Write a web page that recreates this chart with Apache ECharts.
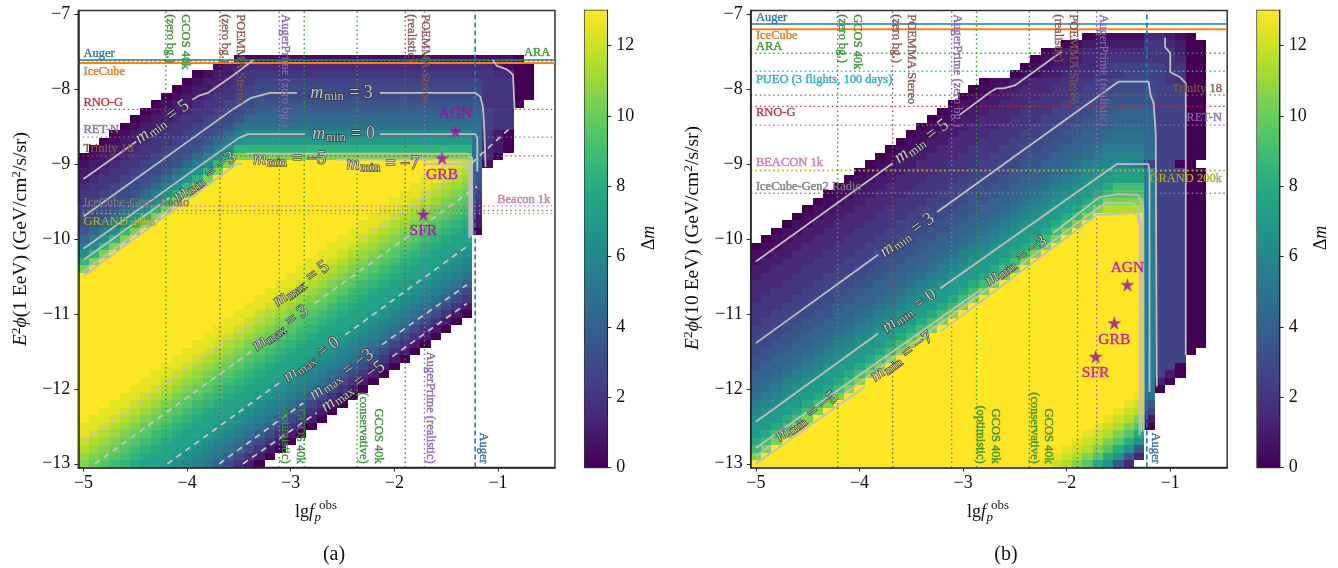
<!DOCTYPE html>
<html><head><meta charset="utf-8">
<style>html,body{margin:0;padding:0;background:#fff}#c{width:1338px;height:568px}</style>
<script src="https://cdn.jsdelivr.net/npm/echarts@6/dist/echarts.min.js"></script>
</head><body><div id="c"></div>
<script>
// Cell values, one string per row of 0.1 x 0.1 cells, first column lg f = -5.0.
// Each character is base-36 of (2 * delta m); "." means no cell.
const topYA = -7.6;
const rowsA = [
"..............."+"1111111111"+"1111111111"+"1111111"+"0",
"............."+"122"+"333333333333333333333333"+"2100",
"..........."+"01223"+"444444444444444444444444"+"3300",
".........."+"0122344"+"5555555555555555555555"+"44400",
"........."+"01223445"+"6666666666666666666666"+"44400",
"........"+"01223445"+"66666666666666666666666"+"44400",
"......."+"0122344566"+"7777777777777777777777"+"4440",
"......"+"01223445667"+"8888888888888888888888"+"544",
"....."+"012234456679"+"9999999999999999999999"+"544",
"...."+"012234456679"+"aaaaaaaaaaaaaaaaaaaaaaa"+"544",
"..."+"012234456679b"+"cccccccccccccccccccccc"+"a420",
".."+"012234456679bd"+"eeeeeeeeeeeeeeeeeeeeee"+"a420",
"."+"012234456679bdh"+"hhhhhhhhhhhhhhhhhhhhhh"+"a320",
"012234456679bdhl"+"llllllllllllllllllllll"+"a30",
"12234456679bdhlqqqqqqqqqqqqqqqqqqqqppoa1",
"2234456679bdhlqqqqqqqqqqqqqqqqqqqqppon7",
"234456679bdhlqqqqqqqqqqqqqqqqqqqqpponm7",
"34456679bdhlqqqqqqqqqqqqqqqqqqqqpponml6",
"4456679bdhlqqqqqqqqqqqqqqqqqqqqpponmlk5",
"456679bdhlqqqqqqqqqqqqqqqqqqqqpponmlkj4",
"56679bdhlqqqqqqqqqqqqqqqqqqqqpponmlkji3",
"6679bdhlqqqqqqqqqqqqqqqqqqqqpponmlkjih2",
"679bdhlqqqqqqqqqqqqqqqqqqqqpponmlkjihg2",
"79bdhlqqqqqqqqqqqqqqqqqqqqpponmlkjihgf0",
"9bdhlqqqqqqqqqqqqqqqqqqqqpponmlkjihgff",
"bdhlqqqqqqqqqqqqqqqqqqqqpponmlkjihgffe",
"dhlqqqqqqqqqqqqqqqqqqqqpponmlkjihgffed",
"hlqqqqqqqqqqqqqqqqqqqqpponmlkjihgffedc",
"lqqqqqqqqqqqqqqqqqqqqpponmlkjihgffedcb",
"qqqqqqqqqqqqqqqqqqqqpponmlkjihgffedcba",
"qqqqqqqqqqqqqqqqqqqpponmlkjihgffedcba8",
"qqqqqqqqqqqqqqqqqqpponmlkjihgffedcba86",
"qqqqqqqqqqqqqqqqqpponmlkjihgffedcba864",
"qqqqqqqqqqqqqqqqpponmlkjihgffedcba8642",
"qqqqqqqqqqqqqqqpponmlkjihgffedcba86420",
"qqqqqqqqqqqqqqpponmlkjihgffedcba86420",
"qqqqqqqqqqqqqpponmlkjihgffedcba86420",
"qqqqqqqqqqqqpponmlkjihgffedcba86420",
"qqqqqqqqqqqpponmlkjihgffedcba86420",
"qqqqqqqqqqpponmlkjihgffedcba86420",
"qqqqqqqqqpponmlkjihgffedcba86420",
"qqqqqqqqpponmlkjihgffedcba86420",
"qqqqqqqpponmlkjihgffedcba86420",
"qqqqqqpponmlkjihgffedcba86420",
"qqqqqpponmlkjihgffedcba86420",
"qqqqpponmlkjihgffedcba86420",
"qqqpponmlkjihgffedcba86420",
"qqpponmlkjihgffedcba86420",
"qpponmlkjihgffedcba86420",
"pponmlkjihgffedcba86420",
"ponmlkjihgffedcba86420",
"onmlkjihgffedcba86420",
"nmlkjihgffedcba86420",
"mlkjihgffedcba86420",
"lkjihgffedcba86420"
];
const topYB = -7.3;
const rowsB = [
"................................01111133210",
"..............................01222222443200",
"............................0122333333444200",
"...........................01122334444444300",
"..........................011223335555554400",
".........................0112233344455554400",
"......................0112233344455666654400",
".....................01122333444556666655500",
"....................011223334445566777755500",
"...................0112233344455667777755500",
"..................01122333444556677888855500",
".................011223334445566778888855500",
"................0112233344455667788999855500",
"...............01122333444556677889aaa955500",
"..............01122333444556677889aaaa955500",
".............01122333444556677889abbbb955500",
"............01122333444556677889abcccca55500",
"...........01122333444556677889abccccb55500",
"..........01122333444556677889abcdeeeeb55500",
".........01122333444556677889abcdeefffb55500",
"........01122333444556677889abcdeegiiib55500",
".......01122333444556677889abcdeegijjjb55500",
"......01122333444556677889abcdeegillllb55500",
".....01122333444556677889abcdeegilnnnnb55500",
"....01122333444556677889abcdeegilqqqqqb55500",
"...01122333444556677889abcdeegilqqqqqqb55500",
"..01122333444556677889abcdeegilqqqqqqqb55500",
".01122333444556677889abcdeegilqqqqqqqqb55500",
"01122333444556677889abcdeegilqqqqqqqqqb55500",
"1122333444556677889abcdeegilqqqqqqqqqqb55500",
"122333444556677889abcdeegilqqqqqqqqqqqb55500",
"22333444556677889abcdeegilqqqqqqqqqqqqb55500",
"2333444556677889abcdeegilqqqqqqqqqqqqqb55500",
"333444556677889abcdeegilqqqqqqqqqqqqqqb55500",
"33444556677889abcdeegilqqqqqqqqqqqqqqqb55500",
"3444556677889abcdeegilqqqqqqqqqqqqqqqqb55500",
"444556677889abcdeegilqqqqqqqqqqqqqqqqqb55500",
"44556677889abcdeegilqqqqqqqqqqqqqqqqqqb55500",
"4556677889abcdeegilqqqqqqqqqqqqqqqqqqqb55500",
"556677889abcdeegilqqqqqqqqqqqqqqqqqqqqb55500",
"56677889abcdeegilqqqqqqqqqqqqqqqqqqqqqb55500",
"6677889abcdeegilqqqqqqqqqqqqqqqqqqqqqqb55500",
"677889abcdeegilqqqqqqqqqqqqqqqqqqqqqqqb5550",
"77889abcdeegilqqqqqqqqqqqqqqqqqqqqqqqqb555",
"7889abcdeegilqqqqqqqqqqqqqqqqqqqqqqqqqb550",
"889abcdeegilqqqqqqqqqqqqqqqqqqqqqqqqqqb520",
"89abcdeegilqqqqqqqqqqqqqqqqqqqqqqqqqqqb20",
"9abcdeegilqqqqqqqqqqqqqqqqqqqqqqqqqqqqb0",
"abcdeegilqqqqqqqqqqqqqqqqqqqqqqqqqqqqpa",
"bcdeegilqqqqqqqqqqqqqqqqqqqqqqqqqqqqpo7",
"cdeegilqqqqqqqqqqqqqqqqqqqqqqqqqqqqpon5",
"deegilqqqqqqqqqqqqqqqqqqqqqqqqqqqqponl2",
"eegilqqqqqqqqqqqqqqqqqqqqqqqqqqqqponlj0",
"egilqqqqqqqqqqqqqqqqqqqqqqqqqqqqponljg",
"gilqqqqqqqqqqqqqqqqqqqqqqqqqqqqponljgd",
"ilqqqqqqqqqqqqqqqqqqqqqqqqqqqqponljgd7",
"lqqqqqqqqqqqqqqqqqqqqqqqqqqqqponljgd73",
"qqqqqqqqqqqqqqqqqqqqqqqqqqqqponljgd73"
];

const xTicks = [-5,-4,-3,-2,-1];
const yTicks = [-13,-12,-11,-10,-9,-8,-7];
const cbTicks = [0,2,4,6,8,10,12];
const viridis = ['#440154','#482475','#414487','#355f8d','#2a788e','#21918c','#22a884','#44bf70','#7ad151','#bddf26','#fde725'];

// Contours (gray). Gaps are where the labels sit.
const minLinesA = [
 [[-5,-9.2],[-4.49,-8.7]],
 [[-3.95,-8.14],[-3.89,-8.09],[-3.8,-8.05],[-3.55,-7.81],[-3.36,-7.61]],
 [[-1.05,-7.61],[-1.01,-7.69],[-0.91,-7.74],[-0.855,-7.81],[-0.84,-8.26]],
 [[-5,-9.7],[-3.55,-8.26],[-3.39,-8.12],[-3.2,-8.05],[-2.94,-8.05]],
 [[-2.14,-8.05],[-1.22,-8.05],[-1.17,-8.1],[-1.145,-8.24],[-1.13,-8.59],[-1.12,-9.04]],
 [[-5,-10.13],[-3.5,-8.65],[-3.41,-8.6],[-2.86,-8.6]],
 [[-2.14,-8.6],[-1.22,-8.6],[-1.2,-8.65],[-1.2,-9.1]],
 [[-5,-10.28],[-4.17,-9.45]],
 [[-3.44,-8.86],[-1.3,-8.86],[-1.25,-8.92],[-1.245,-9.95]],
 [[-5,-10.43],[-4.1,-9.53]],
 [[-2.56,-8.94],[-1.3,-8.94],[-1.26,-9],[-1.26,-9.97]],
 [[-5,-10.49],[-3.52,-9.0],[-3.47,-9.0]],
 [[-1.72,-9],[-1.31,-9],[-1.277,-9.05],[-1.277,-9.99]]
];
const maxLinesA = [
 [[-5,-12.7],[-3.18,-10.95]],
 [[-2.3,-9.99],[-1.3,-9.05],[-1.17,-8.88],[-0.9,-8.54]],
 [[-4.89,-13],[-3.38,-11.5]],
 [[-2.77,-10.86],[-1.2,-9.3]],
 [[-4.19,-13],[-3.09,-11.9]],
 [[-2.475,-11.28],[-1.3,-10.1]],
 [[-3.69,-13],[-2.88,-12.19]],
 [[-2.12,-11.41],[-1.3,-10.61]],
 [[-3.46,-13],[-2.75,-12.32]],
 [[-2.02,-11.57],[-1.3,-10.86]]
];
const minLinesB = [
 [[-5,-10.3],[-3.82,-9.13],[-3.68,-8.99]],
 [[-3.04,-8.35],[-2.74,-8.04],[-2.68,-7.99],[-2.61,-7.99],[-2.5,-7.95],[-2.05,-7.5]],
 [[-1.05,-7.31],[-1.05,-7.44],[-1,-7.52],[-1,-7.77],[-0.905,-7.84],[-0.85,-7.92],[-0.85,-11.55]],
 [[-5,-11.39],[-3.82,-10.21]],
 [[-3.25,-9.64],[-1.5,-7.9],[-1.21,-7.9],[-1.19,-8.08],[-1.16,-8.19],[-1.14,-8.59],[-1.13,-11.97]],
 [[-5,-12.44],[-3.82,-11.26]],
 [[-3.22,-10.66],[-1.515,-9],[-1.21,-9],[-1.2,-9.1],[-1.2,-12.04]],
 [[-5,-12.79],[-2.835,-10.68]],
 [[-2.13,-9.92],[-1.68,-9.44],[-1.5,-9.4],[-1.31,-9.41],[-1.26,-9.57],[-1.255,-12.57]],
 [[-5,-12.9],[-4.85,-12.75]],
 [[-4.15,-12.07],[-1.63,-9.52],[-1.355,-9.52],[-1.31,-9.59],[-1.28,-9.8],[-1.28,-12.57]],
 [[-5,-13],[-3.945,-11.97]],
 [[-3.22,-11.24],[-1.71,-9.68],[-1.35,-9.65],[-1.31,-9.7],[-1.295,-9.85],[-1.295,-12.62]]
];

const contourLabelsA = [
 ["min","5",-4.24,-8.44,36],["min","3",-2.51,-8.05,0],["min","0",-2.49,-8.6,0],
 ["min","−3",-3.83,-9.17,36],["min","−5",-3.01,-8.93,0],["min","−7",-2.11,-9.0,0],
 ["max","5",-2.9,-10.6,36],["max","3",-3.1,-11.19,36],["max","0",-2.8,-11.61,36],
 ["max","−3",-2.51,-11.81,36],["max","−5",-2.4,-11.97,36]
];
const contourLabelsB = [
 ["min","5",-3.4,-8.7,36],["min","3",-3.54,-9.95,36],["min","0",-3.52,-10.96,36],
 ["min","−3",-2.49,-10.29,36],["min","−5",-4.51,-12.37,36],["min","−7",-3.59,-11.57,36]
];

// Sensitivity guide lines
const tab = {blue:'#1f77b4',orange:'#ff7f0e',green:'#2ca02c',red:'#d62728',purple:'#9467bd',brown:'#8c564b',pink:'#e377c2',gray:'#7f7f7f',olive:'#bcbd22',cyan:'#17becf'};
const hGuidesA = [[-7.61,'blue','s'],[-7.65,'orange','S'],[-7.62,'green','d'],[-8.27,'red','d'],[-8.64,'purple','d'],[-8.89,'brown','d'],[-9.56,'pink','d'],[-9.62,'gray','d'],[-9.66,'olive','d']];
const hGuidesB = [[-7.13,'blue','s'],[-7.2,'orange','S'],[-7.52,'green','d'],[-7.76,'cyan','d'],[-8.08,'brown','d'],[-8.23,'red','d'],[-8.48,'purple','d'],[-9.08,'pink','d'],[-9.09,'olive','d'],[-9.39,'gray','d']];
const vGuidesA = [[-4.205,'green','d'],[-3.683,'brown','d'],[-3.11,'purple','d'],[-2.87,'green','d'],[-2.36,'green','d'],[-1.895,'brown','d'],[-1.71,'purple','d'],[-1.22,'blue','D']];
const vGuidesB = [[-4.21,'green','d'],[-3.68,'brown','d'],[-3.11,'purple','d'],[-2.87,'green','d'],[-2.36,'green','d'],[-1.895,'brown','d'],[-1.71,'purple','d'],[-1.226,'blue','D']];

// name, x, y, colour, rotation, align
const labelsA = [
 ["Auger",-5,-7.53,'blue',0,'left'],["IceCube",-5,-7.77,'orange',0,'left'],["RNO-G",-5,-8.18,'red',0,'left'],
 ["RET-N",-5,-8.54,'purple',0,'left'],["Trinity 18",-5,-8.8,'brown',0,'left'],["IceCube-Gen2 Radio",-5,-9.52,'gray',0,'left'],
 ["GRAND 200k",-5,-9.77,'olive',0,'left'],["ARA",-0.495,-7.52,'green',0,'right'],["Beacon 1k",-0.495,-9.47,'pink',0,'right'],
 ["GCOS 40k",-4.02,-7,'green',-90,'left'],["(zero bg.)",-4.16,-7,'green',-90,'left'],
 ["POEMMA Stereo",-3.49,-7,'brown',-90,'left'],["(zero bg.)",-3.635,-7,'brown',-90,'left'],
 ["AugerPrime (zero bg.)",-3.055,-7,'purple',-90,'left'],
 ["POEMMA Stereo",-1.7,-7,'brown',-90,'left'],["(realistic)",-1.84,-7,'brown',-90,'left'],
 ["GCOS 40k",-2.91,-13,'green',-90,'right'],["(optimistic)",-3.055,-13,'green',-90,'right'],
 ["GCOS 40k",-2.16,-13,'green',-90,'right'],["(conservative)",-2.3,-13,'green',-90,'right'],
 ["AugerPrime (realistic)",-1.655,-13,'purple',-90,'right'],["Auger",-1.145,-13,'blue',-90,'right']
];
const labelsB = [
 ["Auger",-5,-7.05,'blue',0,'left'],["IceCube",-5,-7.29,'orange',0,'left'],["ARA",-5,-7.43,'green',0,'left'],
 ["PUEO (3 flights, 100 days)",-5,-7.87,'cyan',0,'left'],["RNO-G",-5,-8.32,'red',0,'left'],["BEACON 1k",-5,-8.98,'pink',0,'left'],
 ["IceCube-Gen2 Radio",-5,-9.3,'gray',0,'left'],["Trinity 18",-0.5,-7.99,'brown',0,'right'],["RET-N",-0.5,-8.38,'purple',0,'right'],
 ["GRAND 200k",-0.5,-9.19,'olive',0,'right'],
 ["GCOS 40k",-4.02,-7,'green',-90,'left'],["(zero bg.)",-4.165,-7,'green',-90,'left'],
 ["POEMMA Stereo",-3.495,-7,'brown',-90,'left'],["(zero bg.)",-3.64,-7,'brown',-90,'left'],
 ["AugerPrime (zero bg.)",-3.06,-7,'purple',-90,'left'],
 ["POEMMA Stereo",-1.934,-7,'brown',-90,'left'],["(realistic)",-2.08,-7,'brown',-90,'left'],
 ["AugerPrime (realistic)",-1.65,-7,'purple',-90,'left'],
 ["GCOS 40k",-2.69,-13,'green',-90,'right'],["(optimistic)",-2.83,-13,'green',-90,'right'],
 ["GCOS 40k",-2.18,-13,'green',-90,'right'],["(conservative)",-2.31,-13,'green',-90,'right'],
 ["Auger",-1.14,-13,'blue',-90,'right']
];

// Source classes
const sourcesA = [["AGN",-1.41,-8.56,'top'],["GRB",-1.54,-8.92,'bottom'],["SFR",-1.72,-9.67,'bottom']];
const sourcesB = [["AGN",-1.413,-10.61,'top'],["GRB",-1.54,-11.12,'bottom'],["SFR",-1.72,-11.57,'bottom']];

const SERIF = '"Liberation Serif","DejaVu Serif",serif';
const X0=-5.05, X1=-0.45, Y0=-13.05, Y1=-6.95, CMAX=13;

function hexRgb(h){return [1,3,5].map(i=>parseInt(h.substr(i,2),16));}
function colorOf(v){
  const t=Math.min(1,Math.max(0,v/CMAX))*(viridis.length-1), i=Math.min(viridis.length-2,Math.floor(t)), f=t-i;
  const a=hexRgb(viridis[i]), b=hexRgb(viridis[i+1]);
  return 'rgb('+a.map((c,k)=>Math.round(c+(b[k]-c)*f)).join(',')+')';
}
function cells(rows,topY){
  const out=[];
  rows.forEach((r,j)=>{ for(let c=0;c<r.length;c++){ if(r[c]==='.')continue;
    out.push([+(-5+0.1*c).toFixed(1), +(topY-0.1*j).toFixed(1), parseInt(r[c],36)/2]); } });
  return out;
}
function heatSeries(rows,topY,ax){
  return {type:'custom',silent:true,xAxisIndex:ax,yAxisIndex:ax,data:cells(rows,topY),encode:{x:0,y:1},z:2,
    renderItem:(p,api)=>{
      const x=api.value(0),y=api.value(1);
      const a=api.coord([x-0.05,y+0.05]), b=api.coord([x+0.05,y-0.05]);
      const x0=Math.round(a[0]),y0=Math.round(a[1]);
      return {type:'rect',shape:{x:x0,y:y0,width:Math.round(b[0])-x0,height:Math.round(b[1])-y0},style:{fill:colorOf(api.value(2))}};
    }};
}
function line(pts,ax,color,width,type,z){
  return {type:'line',silent:true,xAxisIndex:ax,yAxisIndex:ax,data:pts,showSymbol:false,symbol:'none',clip:true,z:z,
    lineStyle:{color:color,width:width,type:type,cap:'butt'},emphasis:{disabled:true}};
}
function guideStyle(k){
  if(k==='s')return [1.4,'solid'];
  if(k==='S')return [2,'solid'];
  if(k==='D')return [1.6,[5,3]];
  return [1.4,[1.5,3]];
}
function guides(h,v,ax){
  const s=[];
  h.forEach(g=>{const st=guideStyle(g[2]);s.push(line([[X0,g[0]],[X1,g[0]]],ax,tab[g[1]],st[0],st[1],4));});
  v.forEach(g=>{const st=guideStyle(g[2]);s.push(line([[g[0],Y0],[g[0],Y1]],ax,tab[g[1]],st[0],st[1],4));});
  return s;
}
function textLayer(items,ax,mk,z){
  return {type:'custom',silent:true,xAxisIndex:ax,yAxisIndex:ax,z:z,encode:{x:0,y:1},
    data:items.map((t,i)=>mk.xy(t).concat([i])),
    renderItem:(p,api)=>{
      const t=items[api.value(2)], c=api.coord([api.value(0),api.value(1)]);
      return mk.el(t,c);
    }};
}
const guideText={xy:t=>[t[1],t[2]],el:(t,c)=>({type:'text',x:c[0],y:c[1],rotation:t[4]*Math.PI/180,
  style:{text:t[0],fill:tab[t[3]],stroke:'rgba(80,80,80,0.6)',lineWidth:0.55,font:'12.5px '+SERIF,align:t[5],verticalAlign:'middle'}})};
const contourRich={m:{fontFamily:SERIF,fontSize:18,fontStyle:'italic'},s:{fontFamily:SERIF,fontSize:12.5,padding:[7,1,0,1]},e:{fontFamily:SERIF,fontSize:18}};
const contourText={xy:t=>[t[2],t[3]],el:(t,c)=>({type:'text',x:c[0],y:c[1],rotation:t[4]*Math.PI/180,
  style:{text:'{m|m}{s|'+t[0]+'}{e| = '+t[1]+'}',rich:contourRich,fill:'#c8c8c8',stroke:'#2a2a2a',lineWidth:1.1,align:'center',verticalAlign:'middle'}})};
const STAR='path://M50 0 L61 35 L98 35 L68 57 L79 91 L50 70 L21 91 L32 57 L2 35 L39 35 Z';
function stars(list,ax){
  return {type:'scatter',silent:true,xAxisIndex:ax,yAxisIndex:ax,symbol:STAR,symbolSize:13,z:7,
    itemStyle:{color:'#b000b4',borderColor:'#666',borderWidth:0.5},
    data:list.map(s=>({value:[s[1],s[2]],name:s[0],label:{show:true,position:s[3],distance:2,formatter:s[0],color:'#b000b4',textBorderColor:'#b000b4',textBorderWidth:0.4,fontFamily:SERIF,fontSize:15.5}}))};
}
function cbar(ax){
  return {type:'custom',silent:true,xAxisIndex:ax,yAxisIndex:ax,data:[[0,0,1,CMAX]],encode:{x:[0,2],y:[1,3]},z:2,
    renderItem:(p,api)=>{
      const a=api.coord([api.value(0),api.value(3)]), b=api.coord([api.value(2),api.value(1)]);
      return {type:'rect',shape:{x:a[0],y:a[1],width:b[0]-a[0],height:b[1]-a[1]},
        style:{fill:new echarts.graphic.LinearGradient(0,1,0,0,viridis.map((c,i)=>({offset:i/(viridis.length-1),color:c})))}};
    }};
}
const minus=v=>String(v).replace('-','\u2212');
function mainX(idx){return {gridIndex:idx,type:'value',min:X0,max:X1,z:10,splitLine:{show:false},
  axisLine:{show:true,onZero:false,lineStyle:{color:'#222',width:1.5}},
  axisTick:{show:true,length:4,customValues:xTicks,lineStyle:{color:'#222',width:1}},
  axisLabel:{show:true,customValues:xTicks,formatter:minus,color:'#111',fontFamily:SERIF,fontSize:18,margin:7}};}
function mainY(idx){return {gridIndex:idx,type:'value',min:Y0,max:Y1,z:10,splitLine:{show:false},
  axisLine:{show:true,onZero:false,lineStyle:{color:'#222',width:1.5}},
  axisTick:{show:true,length:4,customValues:yTicks,lineStyle:{color:'#222',width:1}},
  axisLabel:{show:true,customValues:yTicks,formatter:minus,color:'#111',fontFamily:SERIF,fontSize:18,margin:8}};}
function cbX(idx){return {gridIndex:idx,type:'value',min:0,max:1,show:false};}
function cbY(idx){return {gridIndex:idx,type:'value',min:0,max:CMAX,position:'right',z:10,splitLine:{show:false},
  axisLine:{show:true,onZero:false,lineStyle:{color:'#222',width:1}},
  axisTick:{show:true,length:4,customValues:cbTicks,lineStyle:{color:'#222',width:1}},
  axisLabel:{show:true,customValues:cbTicks,color:'#111',fontFamily:SERIF,fontSize:18,margin:9}};}
function grid(l,w){return {left:l,top:10.5,width:w,height:457,show:true,backgroundColor:'transparent',borderColor:'#333',borderWidth:1.5,containLabel:false};}

const yRich={i:{fontFamily:SERIF,fontStyle:'italic',fontSize:19.5},t:{fontFamily:SERIF,fontSize:19.5},u:{fontFamily:SERIF,fontSize:13.5,padding:[0,0,8,0]}};
const dmRich={i:{fontFamily:SERIF,fontStyle:'italic',fontSize:18},t:{fontFamily:SERIF,fontSize:18}};
function gText(x,y,text,opt){return Object.assign({type:'text',x:x,y:y,silent:true,z:20,style:Object.assign({text:text,fill:'#111',font:'18px '+SERIF,align:'left',verticalAlign:'middle'},opt||{})});}
function gRot(x,y,rot,text,rich){return {type:'text',x:x,y:y,rotation:rot,silent:true,z:20,style:{text:text,rich:rich,fill:'#111',align:'center',verticalAlign:'middle'}};}
function xTitle(o){
  return [
   gText(295+o,512,'lg'),
   gText(309+o,512,'f',{font:'italic 18px '+SERIF}),
   gText(314.5+o,518,'p',{font:'italic 13px '+SERIF}),
   gText(319+o,506,'obs',{font:'13px '+SERIF})
  ];
}

const series=[
  heatSeries(rowsA,topYA,0),
  ...guides(hGuidesA,vGuidesA,0),
  ...minLinesA.map(p=>line(p,0,'#bfbfbf',1.8,'solid',5)),
  ...maxLinesA.map(p=>line(p,0,'#c4c4c4',1.8,[6,5],5)),
  textLayer(labelsA,0,guideText,6),
  textLayer(contourLabelsA,0,contourText,6),
  stars(sourcesA,0),
  cbar(1),
  heatSeries(rowsB,topYB,2),
  ...guides(hGuidesB,vGuidesB,2),
  ...minLinesB.map(p=>line(p,2,'#bfbfbf',1.8,'solid',5)),
  textLayer(labelsB,2,guideText,6),
  textLayer(contourLabelsB,2,contourText,6),
  stars(sourcesB,2),
  cbar(3)
];

const chart=echarts.init(document.getElementById('c'),null,{renderer:'canvas'});
chart.setOption({
  animation:false,backgroundColor:'#fff',
  grid:[grid(78.3,476.7),grid(584.7,22.6),grid(750.7,476.5),grid(1257.1,22.6)],
  xAxis:[mainX(0),cbX(1),mainX(2),cbX(3)],
  yAxis:[mainY(0),cbY(1),mainY(2),cbY(3)],
  series:series,
  graphic:[
    gRot(20.7,239,Math.PI/2,'{i|E}{u|2}{i|ϕ}{t|(1 EeV) (GeV/cm}{u|2}{t|/s/sr)}',yRich),
    gRot(692.5,238,Math.PI/2,'{i|E}{u|2}{i|ϕ}{t|(10 EeV) (GeV/cm}{u|2}{t|/s/sr)}',yRich),
    gRot(649,238,Math.PI/2,'{t|Δ}{i|m}',dmRich),
    gRot(1321,238,Math.PI/2,'{t|Δ}{i|m}',dmRich),
    ...xTitle(0),...xTitle(672),
    gText(334,555,'(a)',{font:'20px '+SERIF,align:'center'}),
    gText(1006,555,'(b)',{font:'20px '+SERIF,align:'center'})
  ]
});
</script></body></html>
